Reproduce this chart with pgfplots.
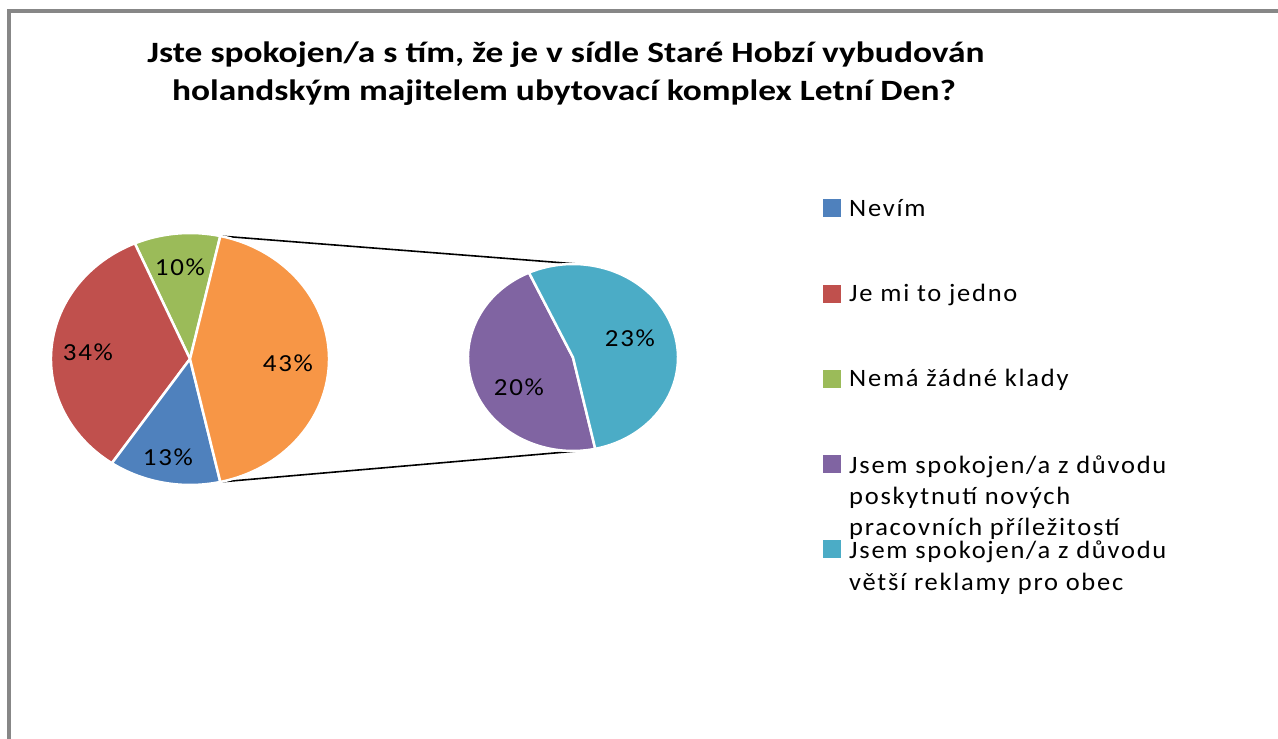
\documentclass[border=0pt]{standalone}
\usepackage{pgfplots}
\pgfplotsset{compat=1.18}
\usepackage{pgfplotstable}
\usepackage{fontspec}
\setmainfont{Carlito}
\newfontfamily\lblfont[LetterSpace=7,FakeStretch=1.06]{Carlito}
\newfontfamily\pctfont[LetterSpace=7,FakeStretch=1.1]{Carlito}
\newfontfamily\titlefont[FakeStretch=1.2]{Carlito}
\definecolor{cBlue}{HTML}{4F81BD}
\definecolor{cRed}{HTML}{C0504D}
\definecolor{cGreen}{HTML}{9BBB59}
\definecolor{cPurple}{HTML}{8064A2}
\definecolor{cCyan}{HTML}{4BACC6}
\definecolor{cOrange}{HTML}{F79646}
\definecolor{frameGray}{HTML}{878787}

% main pie, counter-clockwise from the top edge of the "other" slice
\pgfplotstableread{
pct col lx ly
10 cGreen 180 267
34 cRed 88 352
13 cBlue 168 457
43 cOrange 288 363
}\pieA
% secondary pie (split of the 43 %)
\pgfplotstableread{
pct col lx ly
20 cPurple 519 387
23 cCyan 630 338
}\pieB

\begin{document}
\begin{tikzpicture}
\path[use as bounding box] (0,0) rectangle (1278bp,739bp);
\begin{axis}[at={(0,0)},anchor=south west,width=1278bp,height=739bp,
  scale only axis,xmin=0,xmax=1278,ymin=0,ymax=739,hide axis,clip=false]

% frame
\draw[frameGray,line width=4bp] (axis cs:9,-20) -- (axis cs:9,727.5) -- (axis cs:1300,727.5);

% title
\node[anchor=base,font=\titlefont\bfseries\fontsize{29.5bp}{34bp}\selectfont] at (axis cs:566,676)
  {Jste spokojen/a s tím, že je v sídle Staré Hobzí vybudován};
\node[anchor=base,font=\titlefont\bfseries\fontsize{29.5bp}{34bp}\selectfont] at (axis cs:564,638)
  {holandským majitelem ubytovací komplex Letní Den?};

% connector lines
\path (axis cs:190,380) ++(77.4:139bp and 126bp) coordinate (A1);
\path (axis cs:190,380) ++(-77.4:139bp and 126bp) coordinate (A2);
\path (axis cs:573,381.5) ++(84:105bp and 93.5bp) coordinate (B1);
\path (axis cs:573,381.5) ++(-86:105bp and 93.5bp) coordinate (B2);
\draw[black,line width=1.6bp] (A1) -- (B1);
\draw[black,line width=1.6bp] (A2) -- (B2);

% main pie
\xdef\ang{77.4}
\foreach \i in {0,...,3}{
  \pgfplotstablegetelem{\i}{pct}\of\pieA \let\p\pgfplotsretval
  \pgfplotstablegetelem{\i}{col}\of\pieA \let\c\pgfplotsretval
  \pgfplotstablegetelem{\i}{lx}\of\pieA \let\lx\pgfplotsretval
  \pgfplotstablegetelem{\i}{ly}\of\pieA \let\ly\pgfplotsretval
  \pgfmathsetmacro\e{\ang+3.6*\p}
  \pgfmathsetmacro\yy{739-\ly}
  \edef\doit{\noexpand\fill[\c,draw=white,line width=2.5bp] (axis cs:190,380) -- ++(\ang:139bp and 126bp)
     arc[start angle=\ang,end angle=\e,x radius=139bp,y radius=126bp] -- cycle;
     \noexpand\node[font=\noexpand\pctfont\noexpand\fontsize{24.5bp}{28bp}\noexpand\selectfont] at (axis cs:\lx,\yy) {\p\noexpand\%};}
  \doit
  \xdef\ang{\e}
}

% secondary pie
\xdef\ang{114.8}
\foreach \i in {0,...,1}{
  \pgfplotstablegetelem{\i}{pct}\of\pieB \let\p\pgfplotsretval
  \pgfplotstablegetelem{\i}{col}\of\pieB \let\c\pgfplotsretval
  \pgfplotstablegetelem{\i}{lx}\of\pieB \let\lx\pgfplotsretval
  \pgfplotstablegetelem{\i}{ly}\of\pieB \let\ly\pgfplotsretval
  \pgfmathsetmacro\e{\ang+360*\p/43}
  \pgfmathsetmacro\yy{739-\ly}
  \edef\doit{\noexpand\fill[\c,draw=white,line width=2.5bp] (axis cs:573,381.5) -- ++(\ang:105bp and 93.5bp)
     arc[start angle=\ang,end angle=\e,x radius=105bp,y radius=93.5bp] -- cycle;
     \noexpand\node[font=\noexpand\pctfont\noexpand\fontsize{24.5bp}{28bp}\noexpand\selectfont] at (axis cs:\lx,\yy) {\p\noexpand\%};}
  \doit
  \xdef\ang{\e}
}

% legend
\fill[cBlue]   (axis cs:823,522) rectangle (axis cs:841,540);
\fill[cRed]    (axis cs:823,436) rectangle (axis cs:841,454);
\fill[cGreen]  (axis cs:823,351) rectangle (axis cs:841,369);
\fill[cPurple] (axis cs:823,266) rectangle (axis cs:841,284);
\fill[cCyan]   (axis cs:823,181) rectangle (axis cs:841,199);
\begin{scope}[every node/.style={anchor=base west,inner sep=0pt,font=\lblfont\fontsize{25bp}{30bp}\selectfont}]
\node at (axis cs:849,522) {Nevím};
\node at (axis cs:849,437) {Je mi to jedno};
\node at (axis cs:849,352) {Nemá žádné klady};
\node at (axis cs:849,265) {Jsem spokojen/a z důvodu};
\node at (axis cs:849,234) {poskytnutí nových};
\node at (axis cs:849,203) {pracovních příležitostí};
\node at (axis cs:849,180) {Jsem spokojen/a z důvodu};
\node at (axis cs:849,148) {větší reklamy pro obec};
\end{scope}
\end{axis}
\end{tikzpicture}
\end{document}
